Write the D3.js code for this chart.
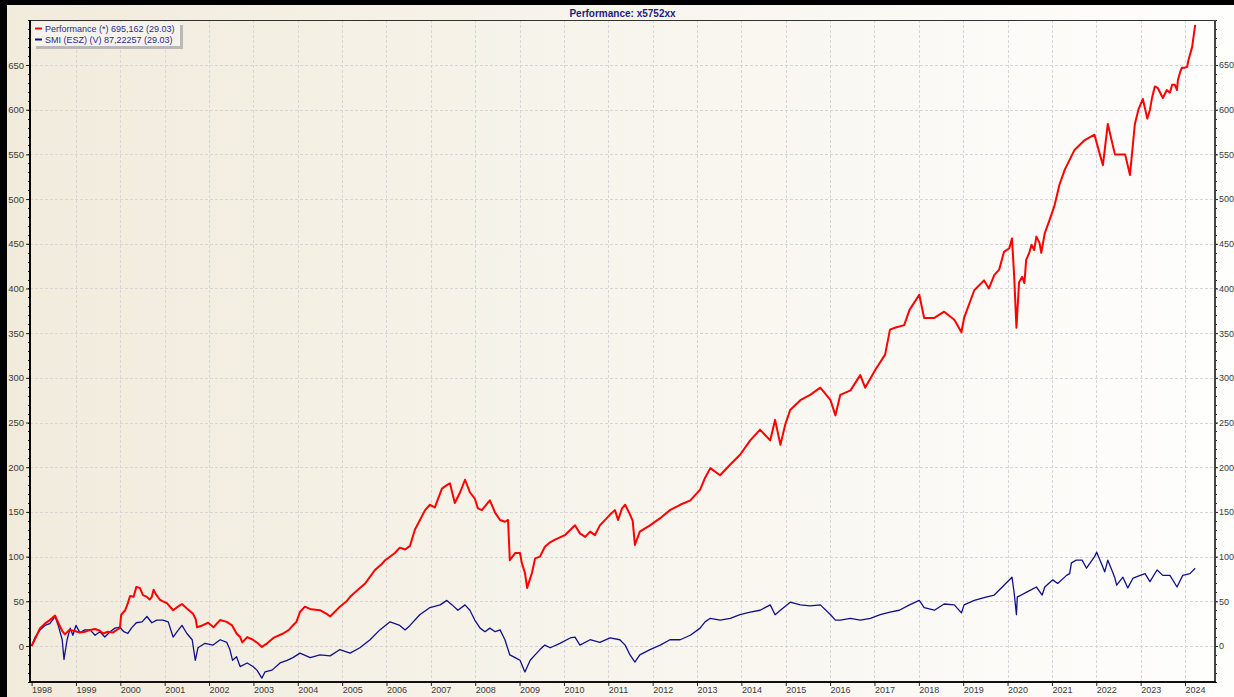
<!DOCTYPE html>
<html>
<head>
<meta charset="utf-8">
<script src="https://cdn.jsdelivr.net/npm/d3@7"></script>
<style>
  html, body { margin: 0; padding: 0; background: #fff; }
  svg { display: block; }
  text { font-family: "Liberation Sans", Arial, sans-serif; }
</style>
</head>
<body>
<svg id="chart" width="1234" height="697"></svg>
<script>
// ---------------- DATA ----------------
const chartTitle = "Performance: x5752xx";
const seriesNames = ["Performance (*) 695,162 (29.03)", "SMI (ESZ) (V) 87,22257 (29.03)"];
const yearTicks = d3.range(1998, 2025);           // 1998 .. 2024
const valueTicks = d3.range(0, 651, 50);          // 0 .. 650
const minorValueTicks = d3.range(-40, 701, 10);

// [decimal year, value]
const perfData = [
  [1998.00,0],[1998.08,8],[1998.19,20],[1998.30,25],[1998.41,29],[1998.53,34],[1998.60,26],
  [1998.69,17],[1998.75,13],[1998.85,18],[1998.95,17],[1999.09,15],[1999.20,16],[1999.32,18],
  [1999.43,19],[1999.54,17],[1999.61,14],[1999.72,16],[1999.83,15],[1999.95,19],[1999.99,20],
  [2000.02,35],[2000.11,40],[2000.17,48],[2000.22,56],[2000.30,55],[2000.36,66],[2000.44,65],
  [2000.51,57],[2000.60,55],[2000.66,52],[2000.71,55],[2000.75,63],[2000.80,58],[2000.89,52],
  [2000.96,50],[2001.05,48],[2001.19,40],[2001.30,44],[2001.39,47],[2001.50,42],[2001.64,36],
  [2001.70,30],[2001.73,21],[2001.85,23],[2001.98,26],[2002.10,21],[2002.25,29],[2002.40,27],
  [2002.52,23],[2002.62,14],[2002.70,10],[2002.75,4],[2002.86,10],[2002.99,7],[2003.10,3],
  [2003.19,-1],[2003.31,3],[2003.45,9],[2003.67,14],[2003.80,18],[2003.89,23],[2003.97,27],
  [2004.05,38],[2004.16,44],[2004.30,41],[2004.50,40],[2004.65,36],[2004.73,33],[2004.95,44],
  [2005.10,50],[2005.18,55],[2005.40,65],[2005.52,70],[2005.74,85],[2005.90,92],[2005.97,96],
  [2006.19,104],[2006.30,110],[2006.42,108],[2006.53,112],[2006.64,130],[2006.87,152],[2006.98,158],
  [2007.09,155],[2007.25,176],[2007.36,180],[2007.43,182],[2007.54,160],[2007.66,172],[2007.77,186],
  [2007.88,172],[2007.99,165],[2008.06,154],[2008.15,152],[2008.33,163],[2008.45,149],[2008.56,141],
  [2008.67,139],[2008.74,141],[2008.78,96],[2008.90,104],[2009.01,104],[2009.05,93],[2009.12,82],
  [2009.17,65],[2009.28,82],[2009.35,98],[2009.46,100],[2009.57,111],[2009.69,116],[2009.80,119],
  [2010.02,124],[2010.25,135],[2010.36,126],[2010.48,122],[2010.59,128],[2010.70,124],[2010.81,135],
  [2011.04,147],[2011.15,152],[2011.22,141],[2011.31,154],[2011.38,158],[2011.49,147],[2011.55,140],
  [2011.60,113],[2011.71,128],[2011.94,135],[2012.17,143],[2012.39,152],[2012.62,158],[2012.85,163],
  [2013.07,175],[2013.18,188],[2013.30,199],[2013.52,191],[2013.75,203],[2013.97,214],[2014.20,230],
  [2014.42,242],[2014.65,230],[2014.76,253],[2014.88,225],[2014.99,248],[2015.10,264],[2015.33,275],
  [2015.55,281],[2015.78,289],[2016.01,275],[2016.12,258],[2016.23,281],[2016.46,286],[2016.68,303],
  [2016.79,289],[2017.02,309],[2017.24,326],[2017.35,354],[2017.46,356],[2017.67,359],[2017.79,376],
  [2018.01,393],[2018.12,367],[2018.35,367],[2018.57,374],[2018.80,365],[2018.96,351],[2019.02,367],
  [2019.25,398],[2019.47,409],[2019.58,400],[2019.70,415],[2019.81,421],[2019.92,441],[2020.04,445],
  [2020.10,456],[2020.15,413],[2020.20,356],[2020.26,407],[2020.33,413],[2020.38,406],[2020.42,432],
  [2020.49,440],[2020.54,449],[2020.60,443],[2020.65,458],[2020.72,451],[2020.76,440],[2020.84,462],
  [2020.95,477],[2021.06,493],[2021.17,516],[2021.29,533],[2021.51,555],[2021.74,566],[2021.96,572],
  [2022.08,550],[2022.15,538],[2022.26,584],[2022.42,550],[2022.65,550],[2022.76,527],[2022.87,584],
  [2022.95,600],[2023.05,612],[2023.15,590],[2023.21,600],[2023.26,614],[2023.32,626],[2023.39,624],
  [2023.50,613],[2023.59,622],[2023.66,619],[2023.71,628],[2023.77,628],[2023.82,622],[2023.84,633],
  [2023.89,642],[2023.93,647],[2024.00,647],[2024.05,648],[2024.07,654],[2024.16,670],[2024.23,695]
];

const smiData = [
  [1998.00,0],[1998.08,10],[1998.19,18],[1998.30,23],[1998.41,25],[1998.53,33],[1998.60,23],
  [1998.69,7],[1998.73,-15],[1998.80,7],[1998.87,20],[1998.93,12],[1999.00,23],[1999.09,15],
  [1999.20,18],[1999.32,18],[1999.43,12],[1999.54,16],[1999.65,10],[1999.77,16],[1999.88,20],
  [1999.99,21],[2000.08,16],[2000.17,14],[2000.25,20],[2000.36,26],[2000.49,27],[2000.60,33],
  [2000.71,26],[2000.82,29],[2000.96,29],[2001.08,27],[2001.19,10],[2001.28,16],[2001.39,23],
  [2001.50,14],[2001.62,7],[2001.69,-16],[2001.75,-2],[2001.91,3],[2002.09,1],[2002.25,7],
  [2002.40,4],[2002.47,-4],[2002.53,-16],[2002.62,-12],[2002.70,-23],[2002.86,-19],[2002.99,-23],
  [2003.08,-27],[2003.19,-36],[2003.26,-29],[2003.42,-27],[2003.60,-19],[2003.76,-16],[2003.89,-13],
  [2004.05,-8],[2004.28,-13],[2004.50,-10],[2004.73,-11],[2004.95,-4],[2005.18,-8],[2005.40,-2],
  [2005.63,7],[2005.85,18],[2006.08,27],[2006.30,23],[2006.42,18],[2006.53,23],[2006.75,35],
  [2006.98,43],[2007.21,46],[2007.36,51],[2007.48,46],[2007.61,40],[2007.77,46],[2007.88,40],
  [2007.99,29],[2008.11,20],[2008.22,16],[2008.33,20],[2008.45,16],[2008.56,18],[2008.67,7],
  [2008.78,-10],[2008.90,-13],[2009.01,-16],[2009.12,-29],[2009.24,-16],[2009.35,-10],[2009.46,-4],
  [2009.57,1],[2009.69,-2],[2009.91,3],[2010.14,9],[2010.25,10],[2010.36,1],[2010.59,7],
  [2010.81,4],[2011.04,9],[2011.26,7],[2011.38,1],[2011.49,-10],[2011.60,-18],[2011.71,-10],
  [2011.94,-4],[2012.17,1],[2012.39,7],[2012.62,7],[2012.85,12],[2013.07,20],[2013.18,27],
  [2013.30,31],[2013.52,29],[2013.75,31],[2013.97,35],[2014.20,38],[2014.42,40],[2014.65,46],
  [2014.76,35],[2014.88,40],[2015.10,49],[2015.33,46],[2015.55,45],[2015.78,46],[2016.01,35],
  [2016.12,29],[2016.23,29],[2016.46,31],[2016.68,29],[2016.91,31],[2017.13,35],[2017.35,38],
  [2017.56,40],[2017.79,46],[2018.01,51],[2018.12,43],[2018.35,40],[2018.57,47],[2018.80,46],
  [2018.96,37],[2019.02,46],[2019.25,51],[2019.47,54],[2019.70,57],[2019.92,68],[2020.10,77],
  [2020.15,59],[2020.20,35],[2020.22,55],[2020.31,57],[2020.42,60],[2020.54,63],[2020.65,66],
  [2020.78,57],[2020.84,66],[2021.02,74],[2021.13,70],[2021.33,79],[2021.40,81],[2021.44,93],
  [2021.55,96],[2021.68,96],[2021.78,87],[2021.96,100],[2022.01,105],[2022.15,88],[2022.19,83],
  [2022.26,96],[2022.35,85],[2022.42,76],[2022.46,68],[2022.60,77],[2022.71,65],[2022.83,76],
  [2022.99,79],[2023.10,81],[2023.21,72],[2023.37,85],[2023.50,79],[2023.66,79],[2023.82,66],
  [2023.95,79],[2024.11,81],[2024.23,87]
];

const seriesColors = ["#ff0000", "#10108c"];

// ---------------- LAYOUT ----------------
const W = 1234, H = 697;
const plot = { left: 30, right: 1215, top: 20, bottom: 682 };

const svg = d3.select("#chart");
const defs = svg.append("defs");
const grad = defs.append("linearGradient").attr("id", "bg").attr("x1", "0").attr("x2", "1").attr("y1", "0").attr("y2", "0");
grad.append("stop").attr("offset", "0%").attr("stop-color", "#f1ebdc");
grad.append("stop").attr("offset", "100%").attr("stop-color", "#fefefd");

svg.append("rect").attr("width", W).attr("height", H).attr("fill", "url(#bg)");
// black frame (top + left)
svg.append("rect").attr("x", 0).attr("y", 0).attr("width", W).attr("height", 5).attr("fill", "#000");
svg.append("rect").attr("x", 0).attr("y", 0).attr("width", 7).attr("height", H).attr("fill", "#000");

// scales
const x = d3.scaleLinear().domain([1997.9639, 2024.6763]).range([plot.left, plot.right]);
const y = d3.scaleLinear().domain([-40.28, 700.34]).range([plot.bottom, plot.top]);

// grid
const grid = svg.append("g").attr("stroke", "#d6d6d6").attr("stroke-width", 1).attr("stroke-dasharray", "3,2");
grid.selectAll("line.v").data(yearTicks.filter(d => d > 1998)).join("line")
  .attr("x1", d => Math.round(x(d)) + 0.5).attr("x2", d => Math.round(x(d)) + 0.5)
  .attr("y1", plot.top).attr("y2", plot.bottom);
grid.selectAll("line.h").data(valueTicks).join("line")
  .attr("x1", plot.left).attr("x2", plot.right)
  .attr("y1", d => Math.round(y(d)) + 0.5).attr("y2", d => Math.round(y(d)) + 0.5);

// lines
const line = d3.line().x(d => x(d[0])).y(d => y(d[1]));
const clip = defs.append("clipPath").attr("id", "clip").append("rect")
  .attr("x", plot.left).attr("y", plot.top).attr("width", plot.right - plot.left).attr("height", plot.bottom - plot.top);
const lines = svg.append("g").attr("clip-path", "url(#clip)");
lines.append("path").datum(smiData).attr("d", line).attr("fill", "none")
  .attr("stroke", seriesColors[1]).attr("stroke-width", 1.3).attr("stroke-linejoin", "round");
lines.append("path").datum(perfData).attr("d", line).attr("fill", "none")
  .attr("stroke", seriesColors[0]).attr("stroke-width", 2).attr("stroke-linejoin", "round");

// axes
const fmt = d3.format("d");
const leftAxis = d3.axisLeft(y).tickValues(valueTicks).tickSize(4).tickPadding(2).tickFormat(fmt);
const rightAxis = d3.axisRight(y).tickValues(valueTicks).tickSize(3).tickPadding(1).tickFormat(fmt);
const bottomAxis = d3.axisBottom(x).tickValues(yearTicks).tickSize(4).tickFormat(fmt);

// minor ticks
const minor = svg.append("g").attr("stroke", "#222").attr("stroke-width", 1);
minor.selectAll("line.l").data(minorValueTicks).join("line")
  .attr("x1", plot.left - 2).attr("x2", plot.left)
  .attr("y1", d => Math.round(y(d)) + 0.5).attr("y2", d => Math.round(y(d)) + 0.5);
minor.selectAll("line.r").data(minorValueTicks).join("line")
  .attr("x1", plot.right).attr("x2", plot.right + 2)
  .attr("y1", d => Math.round(y(d)) + 0.5).attr("y2", d => Math.round(y(d)) + 0.5);

function styleAxis(g) {
  g.select(".domain").remove();
  g.selectAll(".tick line").attr("stroke", "#222");
  g.selectAll(".tick text").attr("fill", "#3a3a3a").attr("font-size", 9.5)
    .attr("font-family", "'Liberation Sans', Arial, sans-serif");
}
svg.append("g").attr("transform", `translate(${plot.left},0)`).call(leftAxis).call(styleAxis);
const ry = svg.append("g").attr("transform", `translate(${plot.right},0)`).call(rightAxis).call(styleAxis);
ry.selectAll(".tick text").attr("font-size", 9);
const bx = svg.append("g").attr("transform", `translate(0,${plot.bottom})`).call(bottomAxis).call(styleAxis);
bx.selectAll(".tick text").attr("text-anchor", "start").attr("dx", 0).attr("y", 5).attr("font-size", 9);

// frame lines
svg.append("line").attr("x1", plot.left).attr("x2", plot.right).attr("y1", plot.top + 0.5).attr("y2", plot.top + 0.5)
  .attr("stroke", "#333").attr("stroke-width", 1);
svg.append("line").attr("x1", plot.right).attr("x2", plot.right).attr("y1", plot.top).attr("y2", plot.bottom)
  .attr("stroke", "#444").attr("stroke-width", 2);
svg.append("line").attr("x1", plot.left).attr("x2", plot.left).attr("y1", plot.top).attr("y2", plot.bottom + 1)
  .attr("stroke", "#000").attr("stroke-width", 2);
svg.append("line").attr("x1", plot.left - 1).attr("x2", plot.right + 1).attr("y1", plot.bottom).attr("y2", plot.bottom)
  .attr("stroke", "#111").attr("stroke-width", 2);

// title
svg.append("text").attr("x", (plot.left + plot.right) / 2).attr("y", 16.5).attr("text-anchor", "middle")
  .attr("font-size", 10).attr("font-weight", "bold").attr("fill", "#1c1c84").text(chartTitle);

// legend
const lg = svg.append("g");
lg.append("rect").attr("x", 36).attr("y", 25).attr("width", 147).attr("height", 24).attr("fill", "#b9b9b9");
lg.append("rect").attr("x", 33).attr("y", 22).attr("width", 147).attr("height", 24).attr("fill", "#f6f3ec");
seriesNames.forEach((name, i) => {
  const yy = 28.5 + i * 11;
  lg.append("line").attr("x1", 35).attr("x2", 42).attr("y1", yy).attr("y2", yy)
    .attr("stroke", seriesColors[i]).attr("stroke-width", 2);
  lg.append("text").attr("x", 45).attr("y", yy + 3.2).attr("font-size", 9).attr("fill", "#2a2a8e").text(name);
});
</script>
</body>
</html>
